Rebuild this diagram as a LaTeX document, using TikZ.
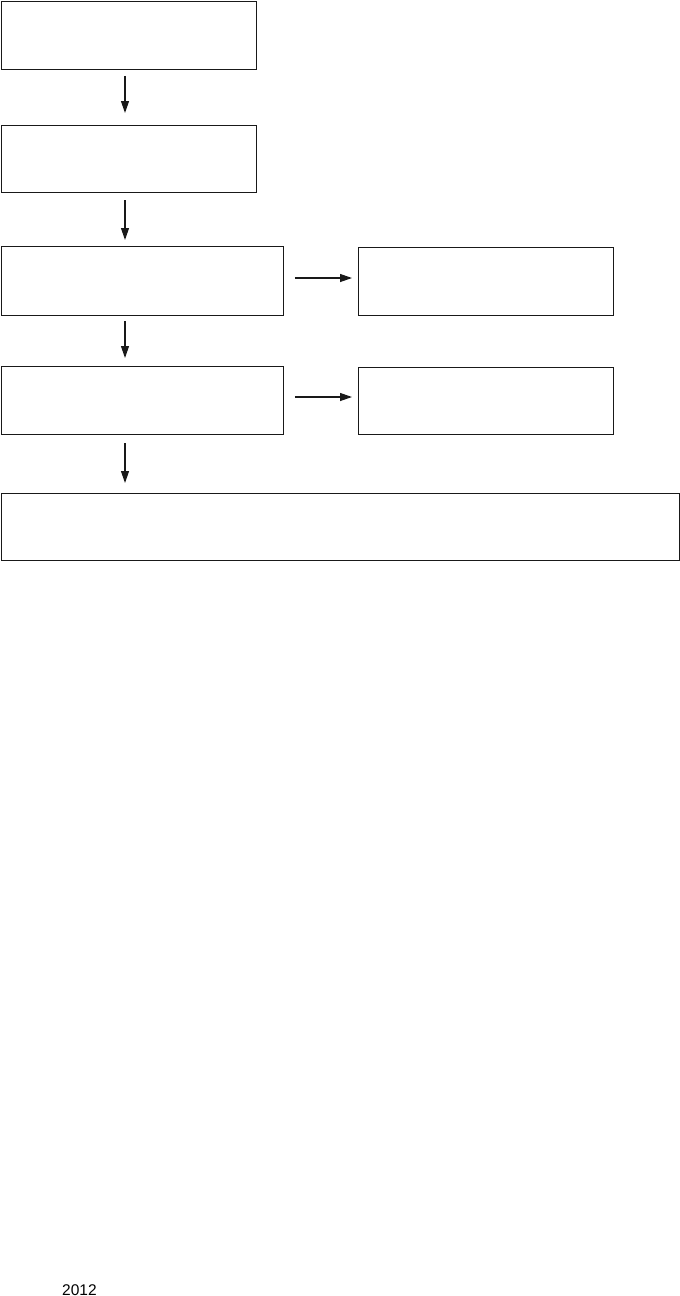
\documentclass[tikz,border=0pt]{standalone}
\usepackage{fontspec}
\setmainfont{Liberation Sans}
\usetikzlibrary{arrows.meta}
\begin{document}
\begin{tikzpicture}[x=1pt,y=-1pt,
  box/.style={draw=black!90,line width=1.2pt,rectangle,inner sep=0pt,anchor=north west},
  arr/.style={draw=black!90,line width=1.2pt,-{Triangle[length=12pt,width=8pt]}}]
\useasboundingbox (0,0) rectangle (680,1296);
\node[box,minimum width=255,minimum height=68] (b1) at (0.6,0.6) {};
\node[box,minimum width=255,minimum height=67] (b2) at (0.6,125) {};
\node[box,minimum width=282,minimum height=69] (b3) at (0.6,246) {};
\node[box,minimum width=255,minimum height=68] (b4) at (358,247) {};
\node[box,minimum width=282,minimum height=68] (b5) at (0.6,366) {};
\node[box,minimum width=255,minimum height=67] (b6) at (358,367) {};
\node[box,minimum width=678.8,minimum height=67] (b7) at (0.6,493) {};
\coordinate (cx) at (125,0);
\coordinate (h1) at (0,278);
\coordinate (h2) at (0,397);
\draw[arr,shorten <=6pt,shorten >=12pt] (b1.south -| cx) -- (b2.north -| cx);
\draw[arr,shorten <=7pt,shorten >=6pt] (b2.south -| cx) -- (b3.north -| cx);
\draw[arr,shorten <=5pt,shorten >=8pt] (b3.south -| cx) -- (b5.north -| cx);
\draw[arr,shorten <=8pt,shorten >=10pt] (b5.south -| cx) -- (b7.north -| cx);
\draw[arr,shorten <=11pt,shorten >=6pt] (b3.east |- h1) -- (b4.west |- h1);
\draw[arr,shorten <=11pt,shorten >=6pt] (b5.east |- h2) -- (b6.west |- h2);
\node[anchor=base west,inner sep=0pt,font=\fontsize{15.5pt}{18pt}\selectfont] (yr) at (62,1295) {2012};
\end{tikzpicture}
\end{document}
